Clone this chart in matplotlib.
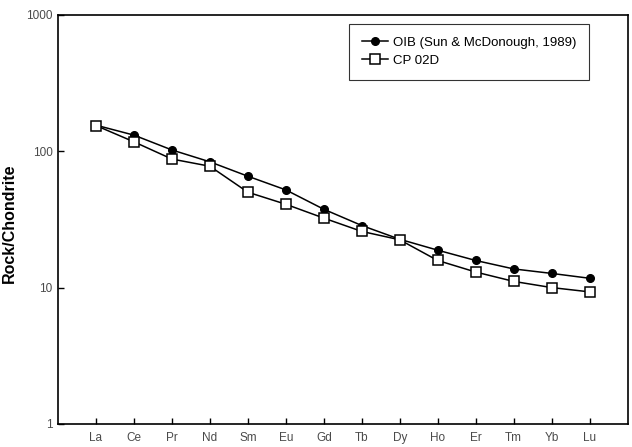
import numpy as np
import matplotlib.pyplot as plt

plt.rcParams['font.family'] = ['Liberation Sans', 'DejaVu Sans']

# REE chondrite-normalised values
elements = ['La', 'Ce', 'Pr', 'Nd', 'Sm', 'Eu', 'Gd', 'Tb', 'Dy', 'Ho', 'Er', 'Tm', 'Yb', 'Lu']
oib = [155, 131, 102, 83.5, 65.5, 52, 37.5, 28.5, 22.6, 18.8, 15.8, 13.7, 12.7, 11.7]
cp02d = [154, 117, 87.5, 77.5, 50, 40.8, 32.3, 25.8, 22.4, 15.8, 13.0, 11.1, 10.0, 9.3]

x = np.arange(1, len(elements) + 1)

fig = plt.figure(figsize=(6.32, 4.47), dpi=100)
ax = fig.add_axes([58/632, 23/447, (627.5-58)/632, (424-14.7)/447])

ax.plot(x, oib, 'k-', lw=1.1, marker='o', ms=5.5, mfc='black', mec='black',
        label='OIB (Sun & McDonough, 1989)', zorder=3)
ax.plot(x, cp02d, 'k-', lw=1.1, marker='s', ms=7, mfc='white', mec='black',
        mew=1.1, label='CP 02D', zorder=4)

ax.set_yscale('log')
ax.set_ylim(1, 1000)
ax.set_xlim(0, 15)
ax.set_xticks(x)
ax.set_xticklabels(elements)
ax.set_yticks([1, 10, 100, 1000])
ax.set_yticklabels(['1', '10', '100', '1000'])
ax.yaxis.set_minor_locator(plt.NullLocator())
ax.tick_params(direction='in', length=4, width=1, labelsize=8.5, colors='black',
               labelcolor='#4a4a4a')
ax.tick_params(axis='y', pad=4)
ax.tick_params(axis='x', pad=6)
for s in ax.spines.values():
    s.set_linewidth(1.2)

ax.set_ylabel('Rock/Chondrite', fontsize=11.5, fontweight='bold')
ax.yaxis.set_label_coords(-0.072, (424-223)/(424-14.7))

leg = ax.legend(loc='upper left', bbox_to_anchor=(0.511, 0.977), fontsize=9.5,
                frameon=True, fancybox=False, edgecolor='black', handlelength=2.0,
                borderpad=0.95, labelspacing=0.45, handletextpad=0.4, borderaxespad=0)
leg.get_frame().set_linewidth(0.8)

fig.savefig('out.png', dpi=100)
